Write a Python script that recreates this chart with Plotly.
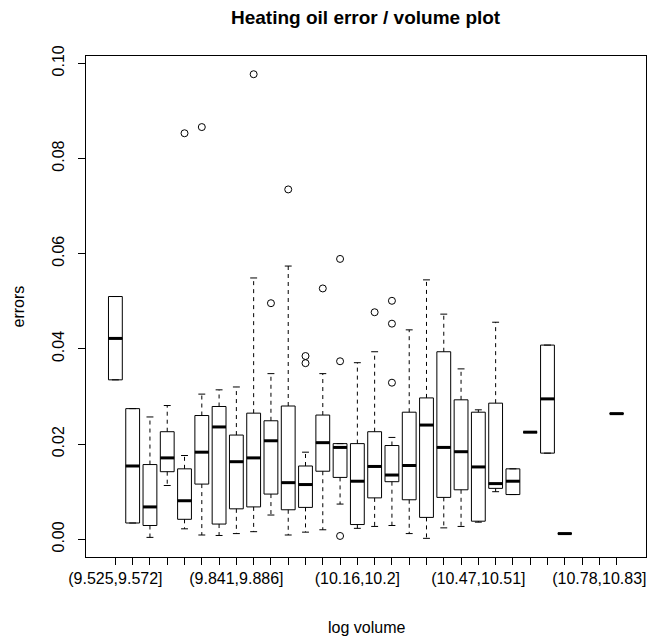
import plotly.graph_objects as go

# ---- data ----
breaks = ["9.525", "9.572", "9.617", "9.662", "9.707", "9.752", "9.796", "9.841",
          "9.886", "9.931", "9.976", "10.02", "10.07", "10.11", "10.16", "10.2",
          "10.25", "10.29", "10.34", "10.38", "10.43", "10.47", "10.51", "10.56",
          "10.6", "10.65", "10.69", "10.74", "10.78", "10.83", "10.87"]
categories = ["(%s,%s]" % (breaks[i], breaks[i + 1]) for i in range(30)]
shown_labels = [1, 8, 15, 22, 29]

box_pos = [1, 2, 3, 4, 5, 6, 7, 8, 9, 10, 11, 12, 13, 14, 15, 16, 17, 18, 19, 20,
           21, 22, 23, 24, 25, 26, 27, 30]
lower_whisker = [0.0335, 0.00342, 0.0004, 0.0113, 0.0022, 0.0009, 0.0008, 0.0012,
                 0.0016, 0.0051, 0.0009, 0.0015, 0.0020, 0.0074, 0.0023, 0.0027,
                 0.0029, 0.0012, 0.0002, 0.0024, 0.0027, 0.0036, 0.0100, 0.0094,
                 0.0225, 0.0181, 0.0012, 0.0264]
q1 = [0.0335, 0.00342, 0.0029, 0.0142, 0.0042, 0.0116, 0.0032, 0.0064,
      0.0068, 0.0095, 0.0062, 0.0067, 0.0143, 0.0130, 0.0031, 0.0087,
      0.0121, 0.0083, 0.0046, 0.0088, 0.0104, 0.0038, 0.0107, 0.0094,
      0.0225, 0.0181, 0.0012, 0.0264]
median = [0.0422, 0.0154, 0.0068, 0.0171, 0.0081, 0.0183, 0.0236, 0.0163,
          0.0171, 0.0207, 0.0119, 0.0115, 0.0203, 0.0193, 0.0122, 0.0153,
          0.0135, 0.0155, 0.0240, 0.0193, 0.0184, 0.0152, 0.0117, 0.0122,
          0.0225, 0.0295, 0.0012, 0.0264]
q3 = [0.0510, 0.02745, 0.0157, 0.0226, 0.0148, 0.0260, 0.0279, 0.0219,
      0.0265, 0.0249, 0.0280, 0.0154, 0.0261, 0.0201, 0.0201, 0.0226,
      0.0197, 0.0267, 0.0297, 0.0394, 0.0293, 0.0267, 0.0286, 0.0148,
      0.0225, 0.0408, 0.0012, 0.0264]
upper_whisker = [0.0510, 0.02745, 0.0257, 0.0281, 0.0176, 0.0305, 0.0314, 0.0320,
                 0.0549, 0.0348, 0.0574, 0.0183, 0.0348, 0.0201, 0.0371, 0.0394,
                 0.0214, 0.0440, 0.0545, 0.0473, 0.0358, 0.0272, 0.0456, 0.0148,
                 0.0225, 0.0408, 0.0012, 0.0264]

outlier_pos = [5, 6, 9, 10, 11, 12, 12, 13, 14, 14, 14, 16, 17, 17, 17]
outlier_val = [0.0853, 0.0866, 0.0977, 0.0496, 0.0735, 0.0385, 0.0370, 0.0527,
               0.0374, 0.0007, 0.0589, 0.0477, 0.0501, 0.0453, 0.0329]

y_ticks = [0.00, 0.02, 0.04, 0.06, 0.08, 0.10]
y_ticktext = ["0.00", "0.02", "0.04", "0.06", "0.08", "0.10"]

BOXW = 0.8
STAPLE = 0.2
FONT = "Liberation Sans, Arial, Helvetica, sans-serif"

fig = go.Figure()

# whiskers (dashed)
wx, wy = [], []
for p, lo, a, b, hi in zip(box_pos, lower_whisker, q1, q3, upper_whisker):
    wx += [p, p, None, p, p, None]
    wy += [b, hi, None, a, lo, None]
fig.add_trace(go.Scatter(x=wx, y=wy, mode="lines",
                         line=dict(color="black", width=1, dash="4px,4px"),
                         hoverinfo="skip", showlegend=False))
# staples
sx, sy = [], []
for p, lo, hi in zip(box_pos, lower_whisker, upper_whisker):
    sx += [p - STAPLE, p + STAPLE, None, p - STAPLE, p + STAPLE, None]
    sy += [hi, hi, None, lo, lo, None]
fig.add_trace(go.Scatter(x=sx, y=sy, mode="lines",
                         line=dict(color="black", width=1),
                         hoverinfo="skip", showlegend=False))

# boxes
fig.add_trace(go.Box(x=box_pos, q1=q1, median=median, q3=q3,
                     lowerfence=q1, upperfence=q3, width=BOXW,
                     fillcolor="white", line=dict(color="black", width=1),
                     whiskerwidth=0, boxpoints=False, showlegend=False))

# thick medians
mx, my = [], []
for p, m in zip(box_pos, median):
    mx += [p - BOXW / 2, p + BOXW / 2, None]
    my += [m, m, None]
fig.add_trace(go.Scatter(x=mx, y=my, mode="lines",
                         line=dict(color="black", width=3),
                         hoverinfo="skip", showlegend=False))

# outliers
fig.add_trace(go.Scatter(x=outlier_pos, y=outlier_val, mode="markers",
                         marker=dict(symbol="circle-open", size=7, color="black",
                                     line=dict(width=1, color="black")),
                         showlegend=False))

ticktext = [categories[i - 1] if i in shown_labels else "" for i in range(1, 31)]

fig.update_layout(
    width=647, height=638,
    margin=dict(l=86, r=1, t=56, b=81),
    paper_bgcolor="white", plot_bgcolor="white",
    font=dict(family=FONT, size=16, color="black"),
    showlegend=False,
    xaxis=dict(range=[-0.7, 31.7], tickmode="array", tickvals=list(range(1, 31)),
               ticktext=ticktext, ticks="outside", ticklen=7, tickwidth=1,
               tickcolor="black", showline=True, linecolor="black", linewidth=1,
               mirror=True, showgrid=False, zeroline=False, tickangle=0,
               tickfont=dict(size=16)),
    yaxis=dict(range=[-0.00372, 0.10153], tickmode="array", tickvals=y_ticks,
               ticktext=y_ticktext, ticks="outside", ticklen=7, tickwidth=1,
               tickcolor="black", showline=True, linecolor="black", linewidth=1,
               mirror=True, showgrid=False, zeroline=False, tickangle=-90,
               ticklabelstandoff=8, tickfont=dict(size=16)),
    annotations=[
        dict(text="<b>Heating oil error / volume plot</b>", xref="paper", yref="paper",
             x=0.5, y=1, yanchor="middle", xanchor="center", yshift=38.5,
             showarrow=False, font=dict(size=19)),
        dict(text="log volume", xref="paper", yref="paper", x=0.5, y=0,
             xanchor="center", yanchor="middle", yshift=-70, showarrow=False,
             font=dict(size=16)),
        dict(text="errors", xref="paper", yref="paper", x=0, y=0.5,
             xanchor="center", yanchor="middle", xshift=-68, textangle=-90,
             showarrow=False, font=dict(size=16)),
    ],
)

fig.write_html("out.html", config={"displayModeBar": False},
               post_script="document.body.style.margin='0px';"
                           "document.body.style.overflow='hidden';")
